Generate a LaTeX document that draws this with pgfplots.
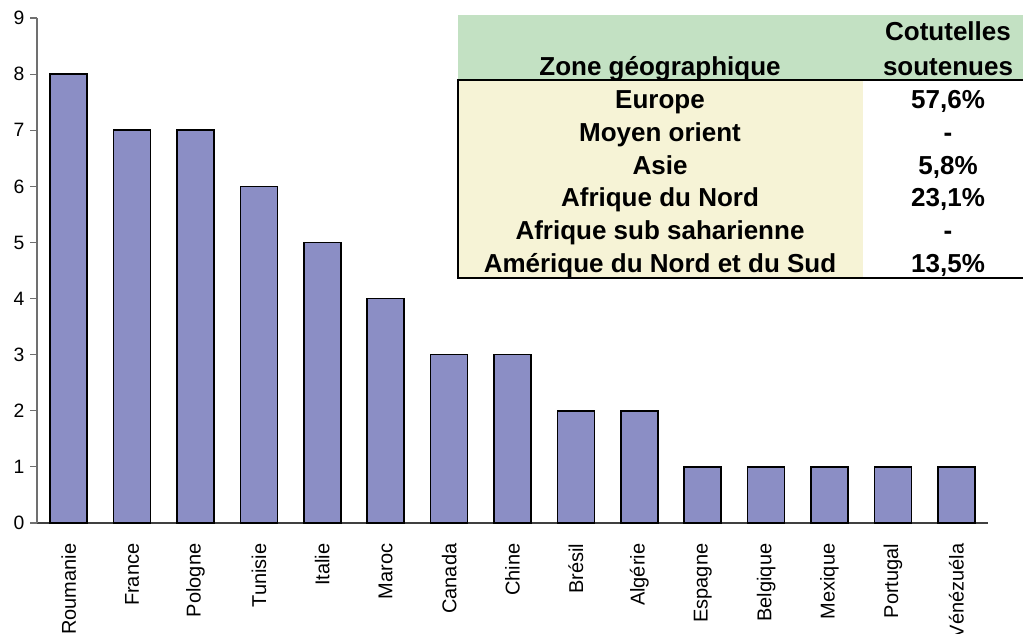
\documentclass[border=0pt]{standalone}
\usepackage{fontspec}
\setmainfont{Liberation Sans}
\usepackage{pgfplots}
\pgfplotsset{compat=1.18}
\definecolor{barfill}{HTML}{8B8EC5}
\definecolor{hdrgreen}{HTML}{C3E1C3}
\definecolor{cellyellow}{HTML}{F6F3D6}
\definecolor{axgray}{HTML}{707070}

\begin{document}
\begin{tikzpicture}
% 1 px of the reference = 0.75pt
\begin{axis}[
    at={(27.75pt,-392.25pt)}, anchor=south west,
    scale only axis,
    width=713.25pt, height=378.75pt,
    ybar, bar width=27.75pt, bar shift=0pt,
    xmin=-0.5, xmax=14.5,
    ymin=0, ymax=9,
    ytick={0,...,9},
    xtick={0,...,14},
    xticklabels={Roumanie,France,Pologne,Tunisie,Italie,Maroc,Canada,Chine,Brésil,Algérie,Espagne,Belgique,Mexique,Portugal,Vénézuéla},
    minor xtick={-0.5,0.5,...,14.5},
    axis x line=bottom, axis y line=left,
    axis line style={axgray, line width=0.8pt, -},
    x axis line style={black!75},
    tick align=outside,
    major tick length=5pt,
    minor tick length=5pt,
    xtick style={draw=none},
    minor x tick style={black!75, line width=0.8pt},
    ytick style={axgray, line width=0.8pt},
    xticklabel style={rotate=90, anchor=east, font=\fontsize{15}{17}\selectfont, xshift=-7pt},
    yticklabel style={font=\fontsize{14.5}{17}\selectfont, xshift=-1pt},
    /pgf/number format/assume math mode=true,
    clip=false,
]
\addplot[fill=barfill, draw=black, line width=1.2pt] coordinates {
    (0,8) (1,7) (2,7) (3,6) (4,5) (5,4) (6,3) (7,3)
    (8,2) (9,2) (10,1) (11,1) (12,1) (13,1) (14,1)};
\end{axis}

% table overlay
\fill[hdrgreen] (343.5pt,-11.25pt) rectangle (767.25pt,-60pt);
\fill[cellyellow] (343.5pt,-60pt) rectangle (647.25pt,-208.5pt);
\draw[black, line width=1.6pt] (770pt,-60pt) -- (343.5pt,-60pt) -- (343.5pt,-208.5pt) -- (770pt,-208.5pt);
\begin{scope}[every node/.style={font=\fontsize{19.5}{21}\selectfont\bfseries, anchor=base, inner sep=0pt}]
\node at (711pt,-30pt) {Cotutelles};
\node at (711pt,-56.25pt) {soutenues};
\node at (495pt,-56.25pt) {Zone géographique};
\node at (495pt,-81pt) {Europe};
\node at (711pt,-81pt) {57,6\%};
\node at (495pt,-105.75pt) {Moyen orient};
\node at (711pt,-105.75pt) {-};
\node at (495pt,-130.5pt) {Asie};
\node at (711pt,-130.5pt) {5,8\%};
\node at (495pt,-154.5pt) {Afrique du Nord};
\node at (711pt,-154.5pt) {23,1\%};
\node at (495pt,-179.25pt) {Afrique sub saharienne};
\node at (711pt,-179.25pt) {-};
\node at (495pt,-204pt) {Amérique du Nord et du Sud};
\node at (711pt,-204pt) {13,5\%};
\end{scope}

\pgfresetboundingbox
\path[use as bounding box] (0pt,0pt) rectangle (767.25pt,-474.75pt);
\end{tikzpicture}
\end{document}
